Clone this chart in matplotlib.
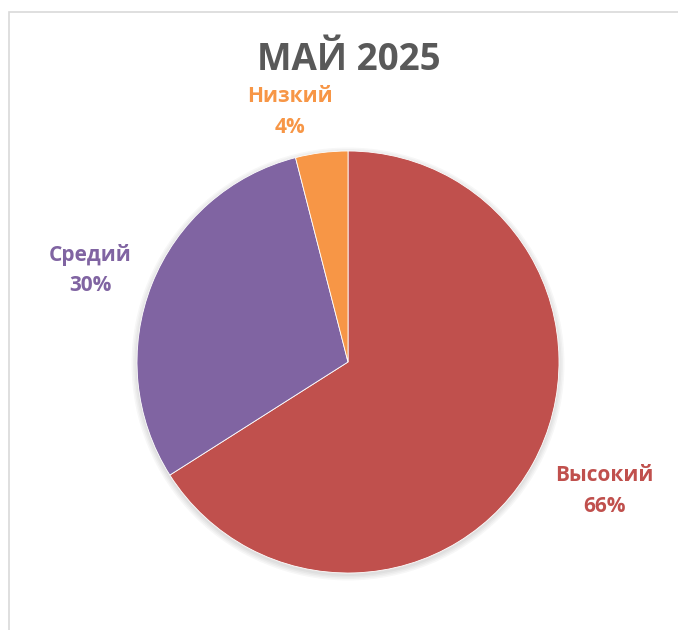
import matplotlib
matplotlib.use("Agg")
import matplotlib.pyplot as plt
from matplotlib.patches import Circle, Rectangle

title = "МАЙ 2025"
categories = ["Высокий", "Средий", "Низкий"]
values = [66, 30, 4]
colors = ["#C0504D", "#8064A2", "#F79646"]

plt.rcParams['font.family'] = ['Open Sans', 'DejaVu Sans']

W, H = 678, 630
fig = plt.figure(figsize=(W / 100, H / 100), dpi=100)
ax = fig.add_axes([0, 0, 1, 1])
ax.set_xlim(0, W)
ax.set_ylim(0, H)
ax.set_aspect('equal')
ax.axis('off')

# chart frame
ax.add_patch(Rectangle((8.5, -5), W, H - 11.5 + 5, fill=False, edgecolor="#D9D9D9", linewidth=1.2))

cx, cy, r = 348, H - 362, 211
# soft shadow
for i, a in enumerate([0.03, 0.03, 0.03, 0.03]):
    ax.add_patch(Circle((cx, cy - 2), r + 1 + i * 1.5, color="black", alpha=a, linewidth=0, zorder=1))

wedges, _ = ax.pie(values, colors=colors, startangle=90, counterclock=False,
                   center=(cx, cy), radius=r,
                   wedgeprops=dict(edgecolor="white", linewidth=0.6, zorder=2))
for w in wedges:
    w.set_zorder(2)
ax.set_xlim(0, W)
ax.set_ylim(0, H)

ax.text(349, H - 60, title, ha='center', va='center', fontsize=26.5, fontweight='bold', color="#595959")

label_pos = [(604, H - 491), (90, H - 270), (290, H - 112)]
for (x, y), cat, v, c in zip(label_pos, categories, values, colors):
    ax.text(x, y, f"{cat}\n{v}%", ha='center', va='center', fontsize=15, fontweight='bold',
            color=c, linespacing=1.6)

fig.savefig("out.png", dpi=100)
